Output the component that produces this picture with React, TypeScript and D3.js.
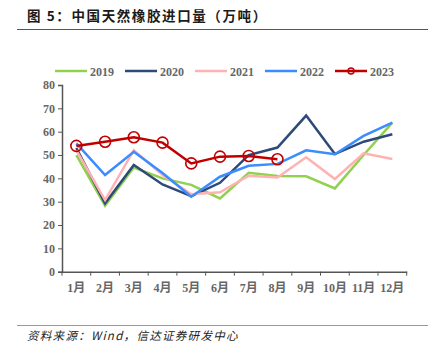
import React, { useEffect, useRef } from 'react';
import * as d3 from 'd3';

const months = ['1月', '2月', '3月', '4月', '5月', '6月', '7月', '8月', '9月', '10月', '11月', '12月'];
const yTicks = [0, 10, 20, 30, 40, 50, 60, 70, 80];

const v2019 = [50, 28.3, 44.6, 40, 37.2, 31.4, 42.4, 41, 40.9, 35.7, 50, 63.9];
const v2020 = [53, 29.3, 45.7, 37.4, 32.4, 38.1, 50, 53.2, 66.9, 50.4, 55.7, 58.9];
const v2021 = [52, 30.7, 52.1, 41.4, 33.2, 34, 41.1, 40.4, 49, 39.7, 50.7, 48.3];
const v2022 = [55, 41.4, 51.4, 42.3, 32.1, 40.7, 45.4, 46.2, 52, 50.3, 58.2, 63.9];
const v2023 = [53.9, 55.7, 57.6, 55.3, 46.4, 49.3, 49.6, 48.2];

const seriesNames = ['2019', '2020', '2021', '2022', '2023'];
const seriesColors = ['#92D050', '#2E4A78', '#FFB2B2', '#3A8CFF', '#C00000'];

const App = () => {
    const ref = useRef<SVGSVGElement>(null);

    useEffect(() => {
        const svg = d3.select(ref.current);
        svg.selectAll('*').remove();

        const x = d3.scaleBand().domain(months).range([62, 406.7]);
        const y = d3.scaleLinear().domain([0, 80]).range([271.7, 85]);
        const tickFont = '"Liberation Serif", "Noto Sans CJK SC", serif';

        // title
        svg.append('text')
            .attr('x', 27).attr('y', 21)
            .attr('font-family', '"Noto Sans CJK SC", sans-serif')
            .attr('font-size', 13.5).attr('font-weight', 'bold').attr('fill', '#1a1a1a')
            .attr('letter-spacing', 1.6)
            .text('图 5：中国天然橡胶进口量（万吨）');
        svg.append('line').attr('x1', 17).attr('x2', 428).attr('y1', 29.5).attr('y2', 29.5)
            .attr('stroke', '#555').attr('stroke-width', 1);

        // axes
        const yAxis = d3.axisLeft(y).tickValues(yTicks).tickSize(4).tickPadding(3);
        const gy = svg.append('g').attr('transform', 'translate(62,0)').call(yAxis);
        const xAxis = d3.axisBottom(x).tickSize(0).tickPadding(12);
        const gx = svg.append('g').attr('transform', 'translate(0,271.7)').call(xAxis);

        [gy, gx].forEach(g => {
            g.select('.domain').attr('stroke', '#555').attr('stroke-width', 1.5);
            g.selectAll('line').attr('stroke', '#555');
            g.selectAll('text')
                .attr('font-family', tickFont).attr('font-size', 12)
                .attr('font-weight', 'bold').attr('fill', '#666');
        });
        // x ticks at band boundaries
        const bounds = months.map(m => x(m) as number).concat([x.range()[1]]);
        gx.selectAll('.bound').data(bounds).enter().append('line')
            .attr('x1', d => d).attr('x2', d => d).attr('y1', 0).attr('y2', 4)
            .attr('stroke', '#555').attr('stroke-width', 1);

        const cx = (i: number) => (x(months[i]) as number) + x.bandwidth() / 2;
        const line = d3.line<number>().x((d, i) => cx(i)).y(d => y(d));

        const all = [v2019, v2020, v2021, v2022, v2023];
        all.forEach((vals, k) => {
            svg.append('path').datum(vals)
                .attr('d', line).attr('fill', 'none')
                .attr('stroke', seriesColors[k]).attr('stroke-width', 2.5)
                .attr('stroke-linejoin', 'miter');
        });
        svg.selectAll('.pt').data(v2023).enter().append('circle')
            .attr('cx', (d, i) => cx(i)).attr('cy', d => y(d)).attr('r', 5.5)
            .attr('fill', 'none').attr('stroke', '#C00000').attr('stroke-width', 1.6);

        // legend
        const legX = [55, 125, 195, 265, 335];
        seriesNames.forEach((name, k) => {
            const g = svg.append('g').attr('transform', `translate(${legX[k]},71)`);
            g.append('line').attr('x1', 0).attr('x2', 32).attr('y1', 0).attr('y2', 0)
                .attr('stroke', seriesColors[k]).attr('stroke-width', 2.5);
            if (k === 4) {
                g.append('circle').attr('cx', 16).attr('cy', 0).attr('r', 3)
                    .attr('fill', 'none').attr('stroke', '#C00000').attr('stroke-width', 1.5);
            }
            g.append('text').attr('x', 35).attr('y', 4.5)
                .attr('font-family', tickFont).attr('font-size', 12)
                .attr('font-weight', 'bold').attr('fill', '#666').text(name);
        });

        // source
        svg.append('line').attr('x1', 17).attr('x2', 428).attr('y1', 325.5).attr('y2', 325.5)
            .attr('stroke', '#999').attr('stroke-width', 1);
        svg.append('text').attr('x', 27).attr('y', 340)
            .attr('font-family', '"Noto Sans CJK SC", sans-serif')
            .attr('font-size', 11.5).attr('font-style', 'italic').attr('fill', '#222')
            .attr('letter-spacing', 1.3)
            .text('资料来源：Wind，信达证券研发中心');
    }, []);

    return (
        <svg ref={ref} width={434} height={354}
            style={{ position: 'absolute', left: 0, top: 0, background: '#fff' }} />
    );
};

export default App;
